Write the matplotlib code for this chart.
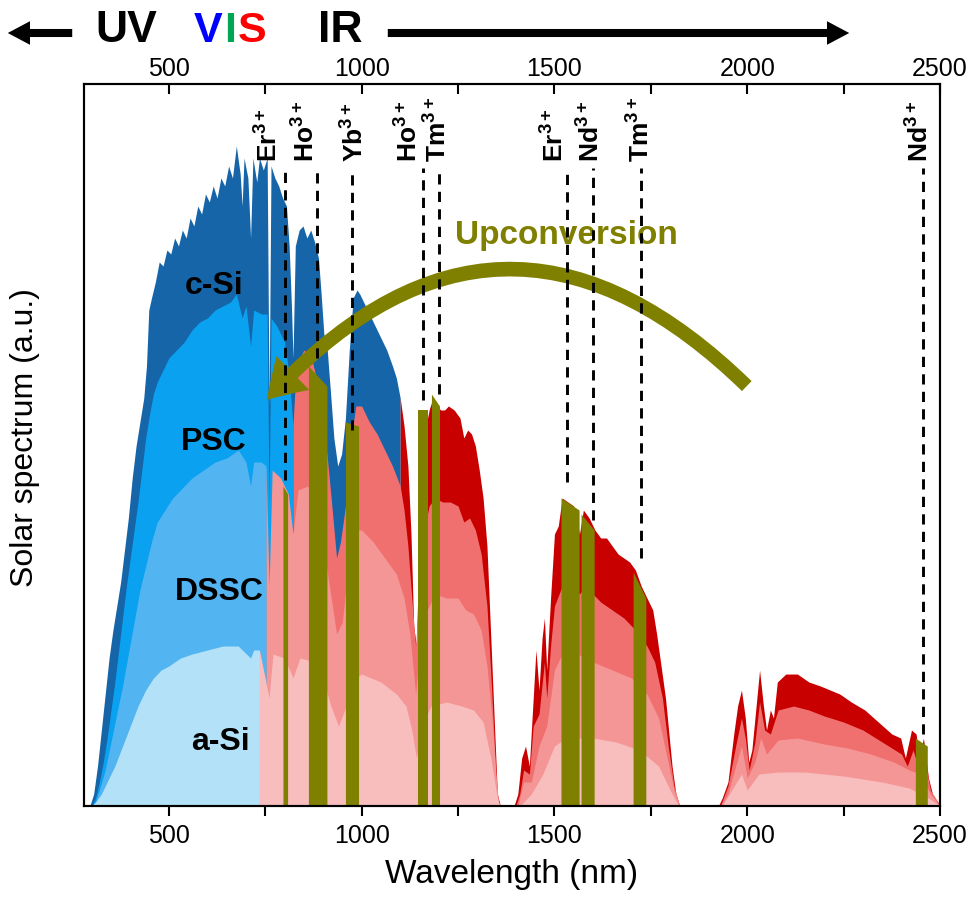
import numpy as np
import matplotlib.pyplot as plt
from matplotlib.patches import FancyArrowPatch

plt.rcParams['font.family'] = ['Liberation Sans', 'DejaVu Sans']
plt.rcParams['mathtext.fontset'] = 'custom'
plt.rcParams['mathtext.rm'] = 'Liberation Sans'
plt.rcParams['mathtext.bf'] = 'Liberation Sans:bold'

# ===== data =====
# full spectrum = c-Si layer
csi_wl = [280, 295, 305, 315, 325, 335, 345, 355, 365, 375,
          385, 395, 405, 415, 425, 435, 442, 448, 455, 465,
          475, 485, 495, 505, 515, 525, 535, 545, 555, 565,
          575, 585, 595, 605, 615, 625, 635, 645, 655, 665,
          675, 685, 690, 695, 705, 712, 718, 728, 735, 745,
          755, 760, 765, 775, 785, 795, 805, 812, 818, 822,
          828, 838, 848, 858, 868, 878, 888, 895, 902, 910,
          918, 928, 938, 948, 958, 968, 978, 988, 995, 1005,
          1020, 1035, 1050, 1065, 1080, 1090, 1100, 1110, 1120, 1128,
          1135, 1142, 1148, 1155, 1165, 1175, 1185, 1195, 1205, 1215,
          1225, 1240, 1255, 1265, 1275, 1285, 1295, 1305, 1315, 1325,
          1335, 1345, 1352, 1360, 1395, 1405, 1415, 1425, 1435, 1445,
          1452, 1460, 1468, 1474, 1480, 1490, 1500, 1510, 1520, 1535,
          1550, 1565, 1575, 1590, 1605, 1620, 1635, 1650, 1665, 1680,
          1695, 1710, 1725, 1740, 1755, 1765, 1778, 1788, 1796, 1805,
          1815, 1825, 1925, 1935, 1950, 1965, 1975, 1985, 1995, 2004,
          2012, 2024, 2032, 2042, 2050, 2060, 2068, 2078, 2100, 2130,
          2160, 2190, 2215, 2240, 2270, 2305, 2340, 2375, 2398, 2410,
          2426, 2438, 2446, 2457, 2470, 2483, 2495, 2500]
csi_val = [0, 0, 0.03, 0.10, 0.19, 0.28, 0.37, 0.44, 0.50, 0.56,
           0.64, 0.72, 0.82, 0.90, 0.96, 1.02, 1.10, 1.24, 1.27, 1.31,
           1.36, 1.35, 1.39, 1.38, 1.42, 1.40, 1.44, 1.42, 1.47, 1.45,
           1.50, 1.48, 1.53, 1.51, 1.55, 1.52, 1.57, 1.55, 1.60, 1.57,
           1.65, 1.58, 1.50, 1.62, 1.57, 1.42, 1.62, 1.56, 1.62, 1.59,
           1.62, 1.00, 1.60, 1.57, 1.55, 1.52, 1.50, 1.40, 1.25, 1.12,
           1.40, 1.44, 1.45, 1.42, 1.44, 1.41, 1.37, 1.28, 1.18, 1.15,
           1.05, 0.92, 0.85, 0.88, 0.97, 1.14, 1.27, 1.29, 1.28, 1.26,
           1.23, 1.20, 1.17, 1.14, 1.10, 1.07, 1.02, 0.95, 0.85, 0.68,
           0.45, 0.40, 0.62, 0.84, 0.94, 0.99, 1.02, 1.00, 0.99, 0.99,
           1.00, 0.99, 0.97, 0.92, 0.94, 0.93, 0.90, 0.84, 0.77, 0.65,
           0.42, 0.19, 0.03, 0, 0, 0.03, 0.12, 0.15, 0.10, 0.27,
           0.39, 0.29, 0.42, 0.47, 0.34, 0.52, 0.68, 0.70, 0.77, 0.76,
           0.75, 0.68, 0.74, 0.72, 0.69, 0.67, 0.67, 0.65, 0.63, 0.62,
           0.61, 0.59, 0.55, 0.52, 0.49, 0.43, 0.34, 0.27, 0.19, 0.10,
           0.03, 0, 0, 0.02, 0.06, 0.18, 0.25, 0.29, 0.22, 0.11,
           0.14, 0.26, 0.34, 0.25, 0.19, 0.24, 0.22, 0.31, 0.33, 0.33,
           0.31, 0.30, 0.29, 0.28, 0.26, 0.24, 0.21, 0.18, 0.17, 0.12,
           0.19, 0.18, 0.12, 0.17, 0.07, 0.02, 0.01, 0]

psc_wl = [280, 300, 310, 320, 330, 340, 350, 360, 370, 380,
          390, 400, 410, 420, 430, 440, 450, 460, 470, 480,
          490, 500, 520, 540, 560, 580, 600, 620, 640, 660,
          675, 690, 700, 712, 720, 740, 755, 760, 765, 780,
          800, 812, 822, 830, 850, 870, 890, 900, 910, 920,
          935, 945, 958, 970, 985, 1000, 1020, 1040, 1060, 1080,
          1100, 1110, 1120, 1130, 1140, 1148, 1160, 1175, 1190, 1210,
          1230, 1250, 1265, 1280, 1295, 1310, 1325, 1335, 1345, 1352,
          1360, 1400, 1410, 1420, 1435, 1445, 1460, 1474, 1480, 1490,
          1500, 1520, 1540, 1565, 1580, 1600, 1620, 1650, 1680, 1710,
          1740, 1760, 1780, 1795, 1810, 1825, 1930, 1950, 1970, 1985,
          1995, 2005, 2020, 2032, 2045, 2060, 2080, 2120, 2160, 2200,
          2250, 2300, 2350, 2400, 2415, 2430, 2446, 2457, 2475, 2495,
          2500]
psc_val = [0, 0, 0.02, 0.06, 0.11, 0.17, 0.24, 0.31, 0.39, 0.47,
           0.55, 0.62, 0.69, 0.76, 0.84, 0.92, 0.98, 1.03, 1.06, 1.08,
           1.10, 1.12, 1.14, 1.16, 1.19, 1.21, 1.22, 1.24, 1.25, 1.26,
           1.28, 1.22, 1.25, 1.15, 1.24, 1.23, 1.23, 0.75, 1.22, 1.20,
           1.16, 1.08, 0.95, 1.10, 1.14, 1.12, 1.04, 0.95, 0.88, 0.78,
           0.62, 0.66, 0.75, 0.90, 1.00, 1.00, 0.96, 0.93, 0.89, 0.85,
           0.80, 0.74, 0.65, 0.52, 0.40, 0.52, 0.68, 0.75, 0.77, 0.76,
           0.76, 0.75, 0.71, 0.72, 0.69, 0.63, 0.50, 0.33, 0.14, 0.02,
           0, 0, 0.03, 0.09, 0.08, 0.20, 0.23, 0.36, 0.27, 0.40,
           0.50, 0.55, 0.56, 0.53, 0.55, 0.53, 0.51, 0.49, 0.47, 0.44,
           0.40, 0.36, 0.27, 0.15, 0.05, 0, 0, 0.05, 0.15, 0.22,
           0.17, 0.09, 0.16, 0.26, 0.19, 0.18, 0.24, 0.25, 0.24, 0.225,
           0.21, 0.19, 0.16, 0.13, 0.10, 0.14, 0.09, 0.13, 0.04, 0.01,
           0]

dssc_wl = [280, 300, 310, 320, 335, 350, 365, 380, 395, 410,
           425, 440, 455, 470, 490, 510, 530, 560, 590, 620,
           650, 680, 700, 712, 720, 740, 752, 760, 768, 790,
           810, 822, 835, 860, 885, 900, 915, 935, 950, 965,
           985, 1000, 1030, 1060, 1090, 1110, 1125, 1140, 1150, 1165,
           1190, 1220, 1250, 1270, 1290, 1310, 1325, 1338, 1348, 1356,
           1405, 1420, 1440, 1460, 1480, 1500, 1520, 1560, 1600, 1650,
           1700, 1740, 1770, 1790, 1810, 1825, 1930, 1950, 1970, 1985,
           2000, 2020, 2035, 2050, 2080, 2130, 2200, 2260, 2320, 2380,
           2420, 2450, 2475, 2500]
dssc_val = [0, 0, 0.01, 0.04, 0.09, 0.16, 0.23, 0.30, 0.38, 0.46,
            0.54, 0.60, 0.66, 0.71, 0.74, 0.77, 0.79, 0.82, 0.84, 0.86,
            0.87, 0.89, 0.86, 0.80, 0.86, 0.86, 0.85, 0.55, 0.84, 0.82,
            0.78, 0.68, 0.79, 0.80, 0.76, 0.66, 0.56, 0.43, 0.46, 0.60,
            0.69, 0.69, 0.66, 0.62, 0.58, 0.52, 0.43, 0.28, 0.38, 0.48,
            0.53, 0.52, 0.52, 0.49, 0.48, 0.44, 0.35, 0.22, 0.08, 0,
            0, 0.06, 0.06, 0.15, 0.20, 0.34, 0.38, 0.38, 0.36, 0.34,
            0.32, 0.28, 0.22, 0.13, 0.04, 0, 0, 0.03, 0.10, 0.15,
            0.07, 0.11, 0.17, 0.13, 0.165, 0.17, 0.155, 0.145, 0.13, 0.11,
            0.09, 0.08, 0.03, 0]

asi_wl = [280, 300, 310, 325, 340, 360, 380, 400, 420, 440,
          460, 480, 500, 530, 560, 600, 640, 680, 712, 720,
          735, 760, 770, 800, 822, 840, 880, 900, 920, 940,
          960, 985, 1000, 1050, 1090, 1115, 1130, 1142, 1155, 1180,
          1220, 1260, 1290, 1315, 1335, 1350, 1358, 1410, 1440, 1470,
          1500, 1530, 1600, 1660, 1720, 1770, 1800, 1822, 1935, 1960,
          1985, 2000, 2030, 2080, 2150, 2250, 2350, 2420, 2470, 2500]
asi_val = [0, 0, 0.01, 0.03, 0.06, 0.10, 0.15, 0.20, 0.25, 0.29,
           0.32, 0.34, 0.35, 0.37, 0.38, 0.39, 0.40, 0.40, 0.37, 0.39,
           0.39, 0.27, 0.38, 0.37, 0.32, 0.37, 0.36, 0.32, 0.25, 0.20,
           0.25, 0.32, 0.33, 0.31, 0.28, 0.25, 0.19, 0.12, 0.20, 0.25,
           0.26, 0.25, 0.24, 0.21, 0.12, 0.03, 0, 0, 0.03, 0.08,
           0.15, 0.17, 0.17, 0.16, 0.14, 0.10, 0.04, 0, 0, 0.04,
           0.08, 0.04, 0.08, 0.085, 0.085, 0.075, 0.06, 0.045, 0.02, 0]

# absorption edge of each cell (blue = absorbed, red = lost)
cells = ["c-Si", "PSC", "DSSC", "a-Si"]
cell_edge = [1100, 822, 752, 735]

# upconverter absorption bands
band_lo = [796, 862, 958, 1147, 1181, 1517, 1569, 1704, 2436]
band_hi = [808, 910, 992, 1173, 1202, 1564, 1603, 1737, 2467]
band_top_lo = [0.80, 1.10, 0.96, 0.99, 1.03, 0.77, 0.73, 0.585, 0.17]
band_top_hi = [0.78, 1.05, 0.95, 0.99, 1.00, 0.74, 0.69, 0.52, 0.15]

ion_wl = [800, 883, 974, 1160, 1201, 1533, 1600, 1724, 2457]
ion_name = ["Er", "Ho", "Yb", "Ho", "Tm", "Er", "Nd", "Tm", "Nd"]
ion_line_end = [0.815, 1.12, 0.94, 1.015, 1.03, 0.81, 0.715, 0.62, 0.18]
ion_label_x = [761, 855, 984, 1122, 1198, 1502, 1595, 1724, 2447]

# ===== colours =====
BLUES = ["#1565a8", "#0aa2f0", "#52b4f0", "#b3e1f7"]
REDS = ["#c80000", "#f07070", "#f59696", "#f8bebe"]
OLIVE = "#808000"

fig = plt.figure(figsize=(9.7, 8.99), dpi=100)
ax = fig.add_axes([0.0866, 0.1034, 0.8825, 0.8032])

layers = [(csi_wl, csi_val), (psc_wl, psc_val), (dssc_wl, dssc_val), (asi_wl, asi_val)]
for (wl, val), edge, cb, cr in zip(layers, cell_edge, BLUES, REDS):
    wl = np.array(wl, float)
    val = np.array(val, float)
    ax.fill_between(wl, 0, val, where=wl <= edge, color=cb, lw=0, zorder=1)
    ax.fill_between(wl, 0, val, where=wl >= edge, color=cr, lw=0, zorder=1)

for lo, hi, t0, t1 in zip(band_lo, band_hi, band_top_lo, band_top_hi):
    ax.fill_between([lo, hi], 0, [t0, t1], color=OLIVE, lw=0, zorder=2)

# layer names
name_x = [616, 616, 632, 634]
name_y = [1.30, 0.91, 0.535, 0.16]
for n, x, y in zip(cells, name_x, name_y):
    ax.text(x, y, n, fontsize=23, fontweight="bold", ha="center", va="center", zorder=5)

# upconversion arrow
arr = FancyArrowPatch((2004, 1.045), (749, 1.01),
                      connectionstyle="arc3,rad=0.52",
                      arrowstyle="simple,tail_width=10,head_width=34,head_length=27",
                      mutation_scale=1, color=OLIVE, lw=0, zorder=4)
ax.add_patch(arr)
ax.text(1530, 1.425, "Upconversion", color=OLIVE, fontsize=24,
        fontweight="bold", ha="center", va="center", zorder=5)

# ion lines + labels
ax.vlines(ion_wl, ion_line_end, 1.595, colors="k", linestyles=(0, (3.5, 2.5)),
          lw=2.1, zorder=6)
for x, n in zip(ion_label_x, ion_name):
    ax.text(x, 1.61, r"$\mathbf{%s^{3+}}$" % n, rotation=90, fontsize=19,
            ha="center", va="bottom", zorder=6)

ax.set_xlim(280, 2500)
ax.set_ylim(0, 1.805)
ax.set_yticks([])
major = [500, 1000, 1500, 2000, 2500]
minor = [750, 1250, 1750, 2250]
ax.set_xticks(major)
ax.set_xticks(minor, minor=True)
ax.tick_params(axis="x", which="both", direction="out", length=7, width=1.5,
               labelsize=18, pad=6)
ax.set_xlabel("Wavelength (nm)", fontsize=24, labelpad=8)
ax.set_ylabel("Solar spectrum (a.u.)", fontsize=23)
ax.yaxis.set_label_coords(-0.051, 0.51)
for s in ax.spines.values():
    s.set_linewidth(1.5)

ax2 = ax.twiny()
ax2.set_xlim(ax.get_xlim())
ax2.set_xticks(major)
ax2.set_xticks(minor, minor=True)
ax2.tick_params(axis="x", which="both", direction="in", length=7, width=1.5,
                labelsize=18, pad=2)
for s in ax2.spines.values():
    s.set_linewidth(1.5)

# header: UV / VIS / IR
hy = 1 - 31 / 899
fig.text(126 / 970, hy, "UV", fontsize=32, fontweight="bold", ha="center", va="center")
for ch, x, c in zip("VIS", [208, 230, 252], ["#0000ff", "#00a651", "#ff0000"]):
    fig.text(x / 970, hy, ch, fontsize=31, fontweight="bold", color=c, ha="center", va="center")
fig.text(340 / 970, hy, "IR", fontsize=32, fontweight="bold", ha="center", va="center")
ay = 1 - 33 / 899
for x0, x1 in [(75, 5), (385, 852)]:
    fig.patches.append(FancyArrowPatch((x0 / 970, ay), (x1 / 970, ay), transform=fig.transFigure,
                                       arrowstyle="simple,tail_width=5.8,head_width=17,head_length=16",
                                       mutation_scale=1, color="k", lw=0))

fig.savefig("out.png", dpi=100)
